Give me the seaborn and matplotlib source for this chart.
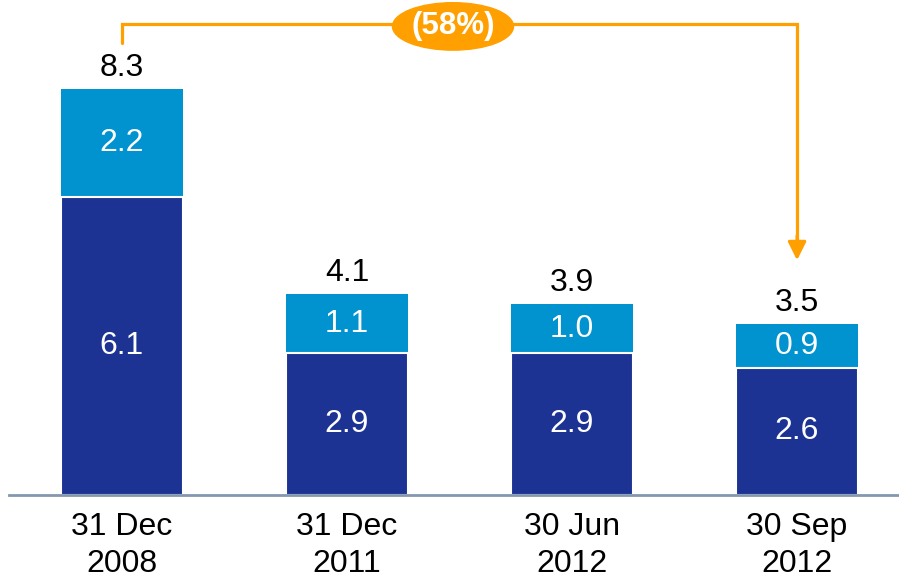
import matplotlib
matplotlib.use('Agg')
import matplotlib.pyplot as plt
import seaborn as sns
from matplotlib.patches import Ellipse

# data
dates = ['31 Dec\n2008', '31 Dec\n2011', '30 Jun\n2012', '30 Sep\n2012']
bottom_vals = [6.1, 2.9, 2.9, 2.6]
top_vals = [2.2, 1.1, 1.0, 0.9]
totals = [8.3, 4.1, 3.9, 3.5]
change_label = '(58%)'

dark = '#1C3394'
light = '#0093D0'
orange = '#FFA000'
axis_col = '#8497B0'

sns.set_style('white')
plt.rcParams['font.family'] = ['Liberation Sans', 'DejaVu Sans']
plt.rcParams['text.color'] = 'black'
plt.rcParams['xtick.color'] = 'black'

fig = plt.figure(figsize=(8.99, 5.78), dpi=100)
ax = fig.add_axes([9 / 899, 83 / 578, 890 / 899, 495 / 578])

# total bar (light) first, then the bottom part (dark) on top of it
sns.barplot(x=dates, y=totals, color=light, width=0.54, saturation=1,
            linewidth=0, ax=ax)
sns.barplot(x=dates, y=bottom_vals, color=dark, width=0.54, saturation=1,
            edgecolor='white', linewidth=1.5, ax=ax)

ax.set_xlim(-0.502, 3.453)
ax.set_ylim(0, 10.12)

for i in range(len(dates)):
    ax.text(i, bottom_vals[i] / 2, f'{bottom_vals[i]:.1f}', ha='center', va='center',
            color='white', fontsize=23)
    ax.text(i, totals[i] - (totals[i] - bottom_vals[i]) / 2, f'{top_vals[i]:.1f}',
            ha='center', va='center', color='white', fontsize=23)
    ax.annotate(f'{totals[i]:.1f}', xy=(i, totals[i]), xytext=(0, 9.5),
                textcoords='offset points', ha='center', va='baseline', fontsize=23)

# bracket from first bar to last bar
y_top = 9.63
ax.plot([0, 0, 3, 3], [9.24, y_top, y_top, 5.2], color=orange, lw=2.3,
        solid_joinstyle='miter', clip_on=False)
ax.annotate('', xy=(3, 4.8), xytext=(3, 5.3),
            arrowprops=dict(arrowstyle='-|>,head_length=1.1,head_width=0.55',
                            color=orange, lw=2.3, shrinkA=0, shrinkB=0))
ax.add_patch(Ellipse((1.471, 9.58), 0.538, 0.97, color=orange, clip_on=False, zorder=5))
ax.text(1.471, 9.58, change_label, ha='center', va='center', color='white',
        fontsize=22.5, fontweight='bold', zorder=6)

sns.despine(ax=ax, left=True)
ax.spines['bottom'].set_color(axis_col)
ax.spines['bottom'].set_linewidth(2)
ax.set_yticks([])
ax.set_xlabel('')
ax.set_ylabel('')
ax.tick_params(axis='x', length=0, pad=12, labelsize=23)
for lab in ax.get_xticklabels():
    lab.set_linespacing(1.3)

fig.savefig('out.png', dpi=100)
